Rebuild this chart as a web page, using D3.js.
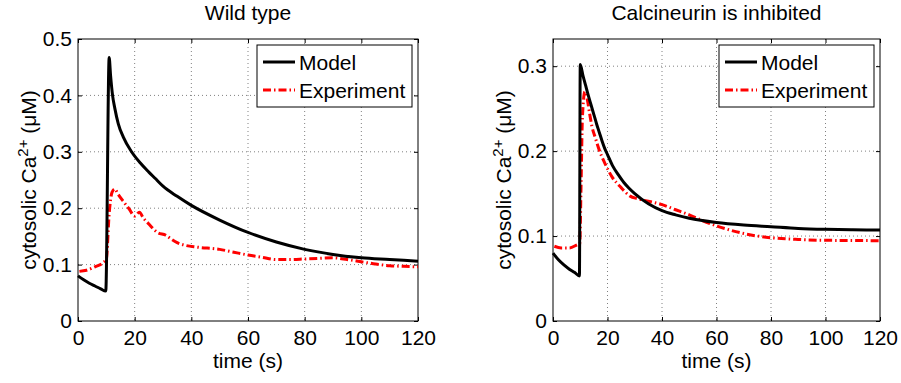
<!DOCTYPE html>
<html>
<head>
<meta charset="utf-8">
<script src="https://cdn.jsdelivr.net/npm/d3@7"></script>
<style>
  body { margin: 0; background: #fff; }
  svg { display: block; font-family: "Liberation Sans", Arial, sans-serif; }
</style>
</head>
<body>
<svg id="chart" width="901" height="383"></svg>
<script>
// Wild type panel
const wildModelTime = [0, 2, 4, 6, 8, 9.8, 11, 11.5, 12.2, 13, 14.2, 16, 18.9, 22, 25, 27.2, 30, 35, 40, 50, 60, 70, 80, 90, 100, 110, 120]
const wildModel = [0.080, 0.073, 0.067, 0.062, 0.057, 0.053, 0.467, 0.435, 0.400, 0.377, 0.350, 0.326, 0.300, 0.280, 0.264, 0.253, 0.239, 0.221, 0.205, 0.179, 0.157, 0.140, 0.127, 0.118, 0.112, 0.109, 0.106]
const wildExpTime = [0.5, 3, 6, 9, 10, 11, 12, 13, 14, 16, 18, 20, 21.7, 23, 25, 28, 31, 33, 35, 38, 42, 50, 55, 60, 65, 70, 75, 80, 85, 90, 95, 100, 105, 110, 115, 120]
const wildExp = [0.088, 0.090, 0.096, 0.104, 0.110, 0.19, 0.228, 0.234, 0.226, 0.212, 0.199, 0.186, 0.193, 0.183, 0.172, 0.157, 0.152, 0.145, 0.139, 0.134, 0.131, 0.127, 0.122, 0.117, 0.113, 0.109, 0.109, 0.110, 0.111, 0.112, 0.109, 0.105, 0.101, 0.098, 0.097, 0.096]

// Calcineurin inhibited panel
const cnModelTime = [0, 2, 4, 6, 8, 9.7, 10, 11, 12, 13, 14, 15, 16, 17, 18, 19, 20, 22, 24, 26, 28, 30, 35, 40, 45, 50, 60, 70, 80, 90, 100, 110, 120]
const cnModel = [0.080, 0.072, 0.066, 0.061, 0.057, 0.053, 0.302, 0.289, 0.277, 0.265, 0.254, 0.243, 0.232, 0.222, 0.212, 0.203, 0.196, 0.182, 0.172, 0.163, 0.156, 0.150, 0.138, 0.130, 0.125, 0.121, 0.116, 0.113, 0.111, 0.109, 0.108, 0.1075, 0.107]
const cnExpTime = [0.5, 3, 6, 9, 9.8, 10.3, 10.8, 11.7, 12.5, 13.5, 14.3, 15.5, 17.1, 19, 21.6, 25, 28.3, 31, 35, 40, 45, 50, 55, 60, 65, 70, 75, 80, 90, 100, 110, 120]
const cnExp = [0.088, 0.086, 0.086, 0.090, 0.091, 0.16, 0.24, 0.270, 0.262, 0.243, 0.229, 0.216, 0.200, 0.186, 0.170, 0.157, 0.147, 0.144, 0.141, 0.137, 0.131, 0.125, 0.118, 0.112, 0.107, 0.103, 0.100, 0.098, 0.096, 0.095, 0.0948, 0.0945]

const xTicks = [0, 20, 40, 60, 80, 100, 120]
const wildYTicks = [0, 0.1, 0.2, 0.3, 0.4, 0.5]
const cnYTicks = [0, 0.1, 0.2, 0.3]
const legendNames = ["Model", "Experiment"]

const svg = d3.select('#chart')
const fontSize = 21

const drawPanel = (cfg) => {
    const x = d3.scaleLinear().domain([0, 120]).range([cfg.left, cfg.right])
    const y = d3.scaleLinear().domain([0, cfg.yMax]).range([cfg.bottom, cfg.top])
    const g = svg.append('g')

    // dotted grid
    g.selectAll('.vgrid')
        .data(xTicks.slice(1, -1))
        .join('line')
        .attr('x1', d => x(d)).attr('x2', d => x(d))
        .attr('y1', cfg.top).attr('y2', cfg.bottom)
        .attr('stroke', '#808080').attr('stroke-width', 1)
        .attr('stroke-dasharray', '1,3')
    g.selectAll('.hgrid')
        .data(cfg.yTicks.filter(d => d > 0 && y(d) > cfg.top + 1))
        .join('line')
        .attr('y1', d => y(d)).attr('y2', d => y(d))
        .attr('x1', cfg.left).attr('x2', cfg.right)
        .attr('stroke', '#808080').attr('stroke-width', 1)
        .attr('stroke-dasharray', '1,3')

    // axes (ticks inward, mirrored on top/right)
    const tickLen = 4
    const xa = g.append('g').attr('transform', `translate(0,${cfg.bottom})`)
        .call(d3.axisBottom(x).tickValues(xTicks).tickSize(-tickLen).tickPadding(9).tickFormat(d3.format('d')))
    const xt = g.append('g').attr('transform', `translate(0,${cfg.top})`)
        .call(d3.axisTop(x).tickValues(xTicks).tickSize(-tickLen).tickFormat(''))
    const ya = g.append('g').attr('transform', `translate(${cfg.left},0)`)
        .call(d3.axisLeft(y).tickValues(cfg.yTicks).tickSize(-tickLen).tickPadding(6).tickFormat(d => d === 0 ? '0' : d3.format('.1f')(d)))
    const yr = g.append('g').attr('transform', `translate(${cfg.right},0)`)
        .call(d3.axisRight(y).tickValues(cfg.yTicks).tickSize(-tickLen).tickFormat(''))
    ;[xa, xt, ya, yr].forEach(a => {
        a.select('.domain').remove()
        a.selectAll('line').attr('stroke', '#000')
        a.selectAll('text').attr('font-size', fontSize).attr('fill', '#000')
            .attr('font-family', '"Liberation Sans", Arial, sans-serif')
    })
    g.append('rect')
        .attr('x', cfg.left).attr('y', cfg.top)
        .attr('width', cfg.right - cfg.left).attr('height', cfg.bottom - cfg.top)
        .attr('fill', 'none').attr('stroke', '#000').attr('stroke-width', 1)

    const line = d3.line()
        .x(d => x(d[0]))
        .y(d => y(d[1]))
        .curve(d3.curveMonotoneX)

    g.append('path')
        .datum(cfg.expTime.map((t, i) => [t, cfg.exp[i]]))
        .attr('d', line)
        .attr('fill', 'none').attr('stroke', '#ff0000').attr('stroke-width', 3)
        .attr('stroke-dasharray', '8,3,1.5,3')
    g.append('path')
        .datum(cfg.modelTime.map((t, i) => [t, cfg.model[i]]))
        .attr('d', line)
        .attr('fill', 'none').attr('stroke', '#000').attr('stroke-width', 3)
        .attr('stroke-linejoin', 'round')

    // title and labels
    const cx = (cfg.left + cfg.right) / 2
    g.append('text').attr('x', cx).attr('y', 20)
        .attr('text-anchor', 'middle').attr('font-size', fontSize).text(cfg.title)
    g.append('text').attr('x', cx).attr('y', 368)
        .attr('text-anchor', 'middle').attr('font-size', fontSize).text('time (s)')
    const yl = g.append('text')
        .attr('transform', `translate(${cfg.left - 42},${(cfg.top + cfg.bottom) / 2}) rotate(-90)`)
        .attr('text-anchor', 'middle').attr('font-size', fontSize)
    yl.append('tspan').text('cytosolic Ca')
    yl.append('tspan').attr('dy', -8).attr('font-size', 15).text('2+')
    yl.append('tspan').attr('dy', 8).text(' (\u03bcM)')

    // legend
    const lg = g.append('g').attr('transform', `translate(${cfg.right - 161},${cfg.top + 6})`)
    lg.append('rect').attr('x', 0).attr('y', 0).attr('width', 155).attr('height', 62)
        .attr('fill', '#fff').attr('stroke', '#000').attr('stroke-width', 1)
    legendNames.forEach((name, i) => {
        const ly = 17 + i * 28
        lg.append('line').attr('x1', 6).attr('x2', 38).attr('y1', ly).attr('y2', ly)
            .attr('stroke', i === 0 ? '#000' : '#ff0000').attr('stroke-width', 3)
            .attr('stroke-dasharray', i === 0 ? null : '8,3,1.5,3')
        lg.append('text').attr('x', 42).attr('y', ly + 8)
            .attr('font-size', fontSize).text(name)
    })
}

drawPanel({
    title: 'Wild type', left: 78, right: 418, top: 39, bottom: 321, yMax: 0.5, yTicks: wildYTicks,
    modelTime: wildModelTime, model: wildModel, expTime: wildExpTime, exp: wildExp
})
drawPanel({
    title: 'Calcineurin is inhibited', left: 553, right: 880, top: 39, bottom: 321, yMax: 0.332, yTicks: cnYTicks,
    modelTime: cnModelTime, model: cnModel, expTime: cnExpTime, exp: cnExp
})
</script>
</body>
</html>
